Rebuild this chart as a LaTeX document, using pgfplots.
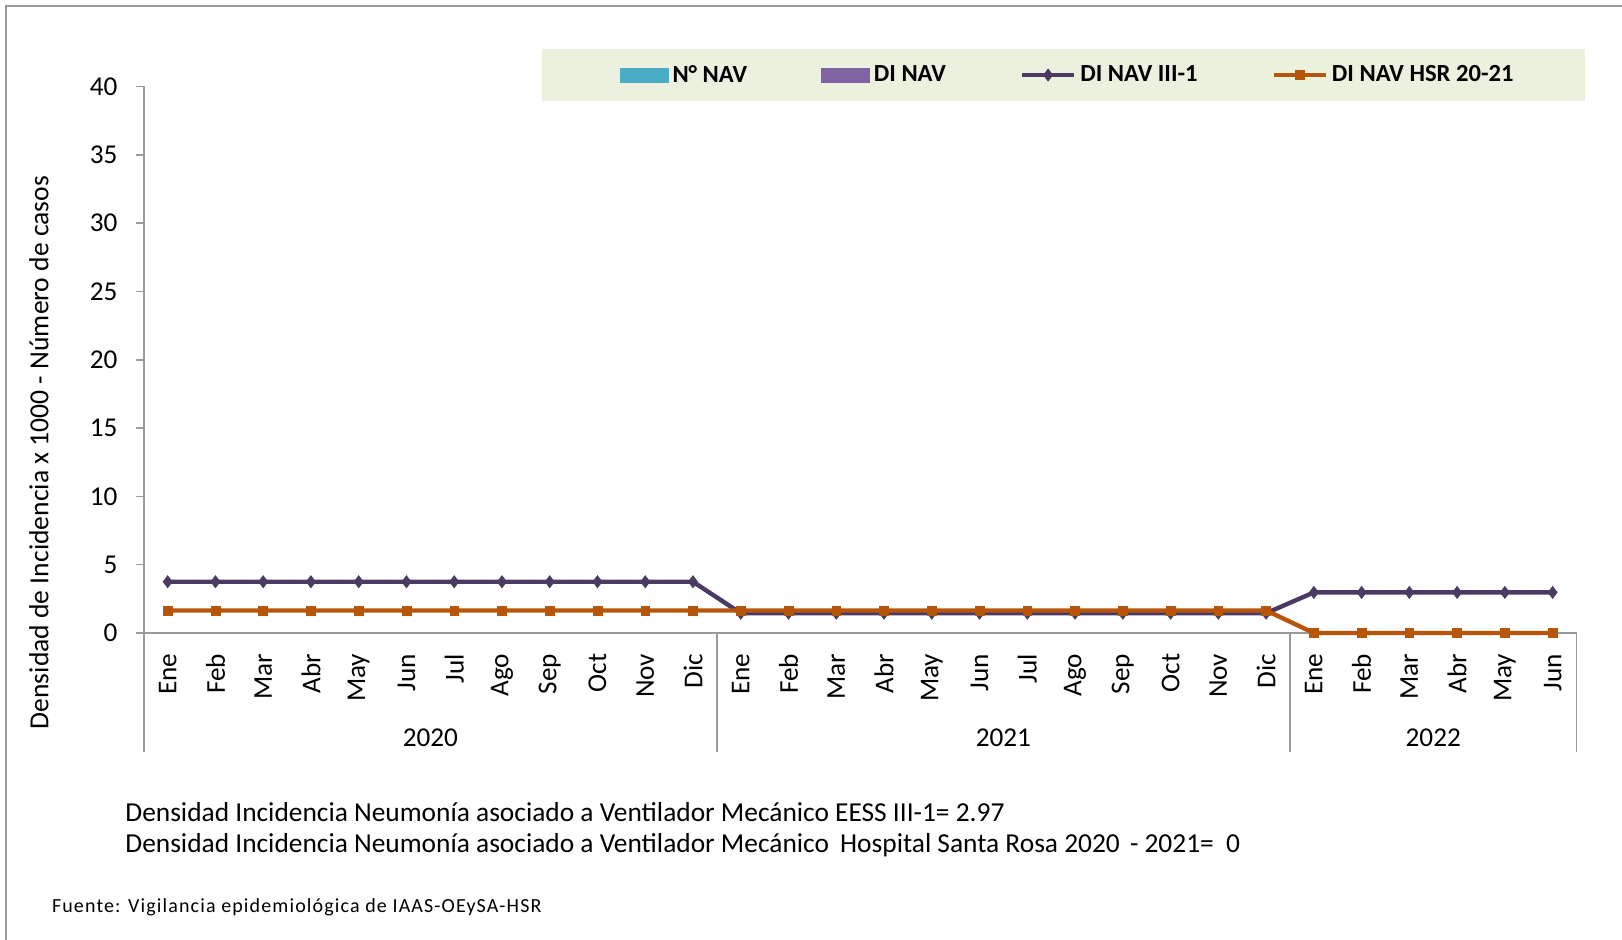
\documentclass[border=0pt]{standalone}
\usepackage{fontspec}
\setmainfont{Carlito}
\usepackage{pgfplots}
\pgfplotsset{compat=1.18}
\usetikzlibrary{calc}
\definecolor{cpurp}{HTML}{4B3A63}
\definecolor{corng}{HTML}{B7560A}
\definecolor{caqua}{HTML}{4BACC6}
\definecolor{cviol}{HTML}{8064A2}
\definecolor{clegbg}{HTML}{EBF1DE}
\definecolor{caxis}{HTML}{9A9A9A}
\newcommand{\tickfont}{\fontsize{13.6}{16}\selectfont}
\begin{document}
\begin{tikzpicture}
\path[use as bounding box] (0pt,0pt) rectangle (811pt,-470pt);
% outer frame
\draw[color=caxis, line width=1.2pt] (3pt,-470pt) -- (3pt,-3pt) -- (811pt,-3pt);
% legend background
\fill[clegbg] (271pt,-24.3pt) rectangle (792.5pt,-50.7pt);
\begin{axis}[
  at={(71.9pt,-316.5pt)}, anchor=south west,
  scale only axis, width=716.35pt, height=273.25pt,
  xmin=-0.5, xmax=29.5, ymin=0, ymax=40,
  clip=false,
  axis x line=bottom, axis y line=left,
  axis line style={-, draw=caxis, line width=0.8pt},
  xtick={0,...,29},
  xticklabels={Ene,Feb,Mar,Abr,May,Jun,Jul,Ago,Sep,Oct,Nov,Dic,Ene,Feb,Mar,Abr,May,Jun,Jul,Ago,Sep,Oct,Nov,Dic,Ene,Feb,Mar,Abr,May,Jun},
  x tick style={draw=none},
  xticklabel style={rotate=90, anchor=east, font=\tickfont, inner sep=0pt},
  xticklabel shift=6.2pt,
  ytick={0,5,...,40},
  y tick style={draw=caxis, line width=0.8pt},
  major tick length=4pt,
  tick align=outside,
  yticklabel style={font=\tickfont, inner sep=0pt},
  yticklabel shift=9pt,
  /pgf/number format/assume math mode=true,
  legend columns=4,
  legend style={at={(axis description cs:0.6455,1.021)}, anchor=center, draw=none, fill=none,
    font=\fontsize{12.3}{14}\selectfont\bfseries,
    /tikz/every even column/.append style={column sep=35pt},
    /tikz/every odd column/.append style={column sep=0pt}},
  legend image code/.code={\draw[mark repeat=2,mark phase=2,#1] plot coordinates {(0pt,0pt) (13pt,0pt) (26pt,0pt)};},
]
\addlegendimage{legend image code/.code={\fill[caqua] (0pt,-3.5pt) rectangle (24pt,3.5pt);}}
\addlegendentry{N° NAV}
\addlegendimage{legend image code/.code={\fill[cviol] (0pt,-3.5pt) rectangle (24pt,3.5pt);}}
\addlegendentry{DI NAV}
\addplot[color=cpurp, line width=2.2pt, mark=diamond*, mark size=2.9pt, mark options={line width=0.5pt}] coordinates {
(0,3.75) (1,3.75) (2,3.75) (3,3.75) (4,3.75) (5,3.75) (6,3.75) (7,3.75) (8,3.75) (9,3.75) (10,3.75) (11,3.75)
(12,1.45) (13,1.45) (14,1.45) (15,1.45) (16,1.45) (17,1.45) (18,1.45) (19,1.45) (20,1.45) (21,1.45) (22,1.45) (23,1.45)
(24,2.97) (25,2.97) (26,2.97) (27,2.97) (28,2.97) (29,2.97)};
\addlegendentry{DI NAV III-1}
\addplot[color=corng, line width=2.2pt, mark=square*, mark size=2.2pt, mark options={line width=0.3pt}] coordinates {
(0,1.65) (1,1.65) (2,1.65) (3,1.65) (4,1.65) (5,1.65) (6,1.65) (7,1.65) (8,1.65) (9,1.65) (10,1.65) (11,1.65)
(12,1.65) (13,1.65) (14,1.65) (15,1.65) (16,1.65) (17,1.65) (18,1.65) (19,1.65) (20,1.65) (21,1.65) (22,1.65) (23,1.65)
(24,0) (25,0) (26,0) (27,0) (28,0) (29,0)};
\addlegendentry{DI NAV HSR 20-21}
% category separators
\draw[caxis, line width=0.8pt] (axis cs:-0.5,0) -- ++(0pt,-59.5pt);
\draw[caxis, line width=0.8pt] (axis cs:11.5,0) -- ++(0pt,-59.5pt);
\draw[caxis, line width=0.8pt] (axis cs:23.5,0) -- ++(0pt,-59.5pt);
\draw[caxis, line width=0.8pt] (axis cs:29.5,0) -- ++(0pt,-59.5pt);
\node[font=\tickfont] at ($(axis cs:5.5,0)+(0pt,-52.25pt)$) {2020};
\node[font=\tickfont] at ($(axis cs:17.5,0)+(0pt,-52.25pt)$) {2021};
\node[font=\tickfont] at ($(axis cs:26.5,0)+(0pt,-52.25pt)$) {2022};
\end{axis}
% y label
\node[rotate=90, font=\fontsize{13.8}{16}\selectfont] at (19.5pt,-226.3pt) {Densidad de Incidencia x 1000 - Número de casos};
% notes
\node[anchor=west, inner sep=0pt, font=\fontsize{13.7}{16}\selectfont] at (62.5pt,-406pt) {Densidad Incidencia Neumonía asociado a Ventilador Mecánico EESS III-1= 2.97};
\node[anchor=west, inner sep=0pt, font=\fontsize{13.7}{16}\selectfont] at (62.5pt,-422.8pt) {Densidad Incidencia Neumonía asociado a Ventilador Mecánico\hspace{2.5pt} Hospital Santa Rosa 2020\hspace{2pt} - 2021=\hspace{3pt} 0};
\node[anchor=west, inner sep=0pt, font=\fontsize{10}{12}\selectfont\addfontfeature{LetterSpace=5.7}] at (25.8pt,-453.5pt) {Fuente: Vigilancia epidemiológica de IAAS-OEySA-HSR};
\end{tikzpicture}
\end{document}
